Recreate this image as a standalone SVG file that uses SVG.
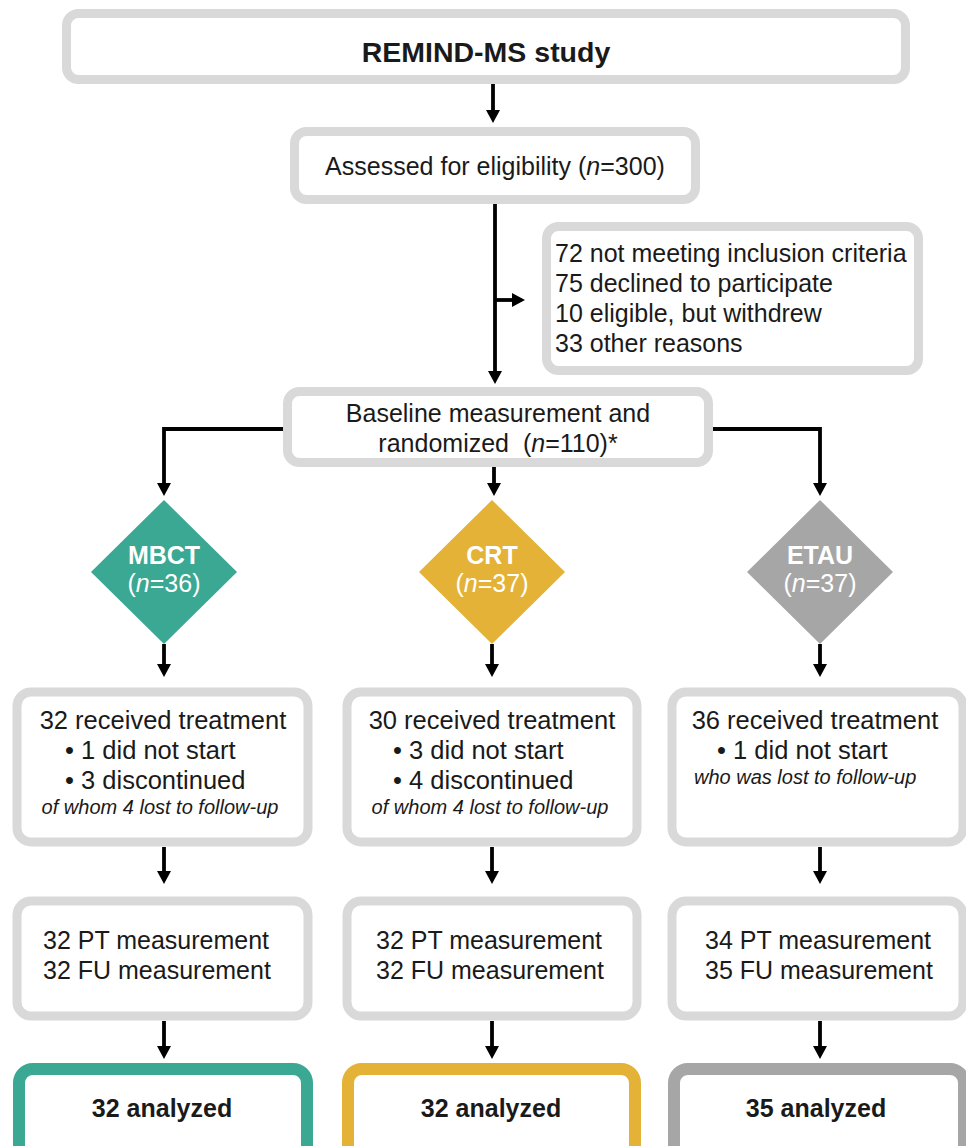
<svg xmlns="http://www.w3.org/2000/svg" width="966" height="1146" viewBox="0 0 966 1146">
<style>
.box{fill:#fff;stroke:#d9d9d9;stroke-width:9}
.t{font-family:"Liberation Sans",Arial,sans-serif;font-size:25px;fill:#1a1a1a}
.r{font-size:25.5px}
.b{font-weight:bold}
.i{font-style:italic;font-size:20px}
.m{text-anchor:middle}
.w{fill:#fff}
.c{fill:none;stroke:#000;stroke-width:3.8}
</style>
<defs>
<marker id="ah" markerUnits="userSpaceOnUse" markerWidth="14" markerHeight="14" refX="2" refY="7" orient="auto">
<path d="M0,0 L13,7 L0,14 z" fill="#000"/>
</marker>
</defs>
<g id="connectors">
<line class="c" x1="493" y1="84" x2="493" y2="112" marker-end="url(#ah)"/>
<line class="c" x1="495" y1="204" x2="495" y2="373" marker-end="url(#ah)"/>
<line class="c" x1="495" y1="300" x2="514" y2="300" marker-end="url(#ah)"/>
<polyline class="c" points="283,429 164,429 164,485" marker-end="url(#ah)"/>
<polyline class="c" points="713,429 820,429 820,485" marker-end="url(#ah)"/>
<line class="c" x1="494" y1="467" x2="494" y2="485" marker-end="url(#ah)"/>
<line class="c" x1="164" y1="644" x2="164" y2="666" marker-end="url(#ah)"/>
<line class="c" x1="492" y1="644" x2="492" y2="666" marker-end="url(#ah)"/>
<line class="c" x1="820" y1="644" x2="820" y2="666" marker-end="url(#ah)"/>
<line class="c" x1="164" y1="847" x2="164" y2="873" marker-end="url(#ah)"/>
<line class="c" x1="492" y1="847" x2="492" y2="873" marker-end="url(#ah)"/>
<line class="c" x1="820" y1="847" x2="820" y2="873" marker-end="url(#ah)"/>
<line class="c" x1="164" y1="1021" x2="164" y2="1048" marker-end="url(#ah)"/>
<line class="c" x1="492" y1="1021" x2="492" y2="1048" marker-end="url(#ah)"/>
<line class="c" x1="820" y1="1021" x2="820" y2="1048" marker-end="url(#ah)"/>
</g>
<g id="study">
<rect class="box" x="66.5" y="13.5" width="839" height="66" rx="12"/>
<text class="t b m" x="486" y="62" style="font-size:28.5px">REMIND-MS study</text>
</g>
<g id="assessed">
<rect class="box" x="294.5" y="131.5" width="401" height="68" rx="12"/>
<text class="t m" x="495" y="175">Assessed for eligibility (<tspan font-style="italic">n</tspan>=300)</text>
</g>
<g id="excluded">
<rect class="box" x="546.5" y="226.5" width="372" height="144" rx="12"/>
<text class="t" x="555" y="262">72 not meeting inclusion criteria</text>
<text class="t" x="555" y="292">75 declined to participate</text>
<text class="t" x="555" y="322">10 eligible, but withdrew</text>
<text class="t" x="555" y="352">33 other reasons</text>
</g>
<g id="baseline">
<rect class="box" x="287.5" y="391.5" width="421" height="71" rx="12"/>
<text class="t m" x="498" y="422">Baseline measurement and</text>
<text class="t m" x="498" y="452">randomized &#160;(<tspan font-style="italic">n</tspan>=110)*</text>
</g>
<g id="mbct">
<polygon points="164,500 237,572 164,644 91,572" fill="#3aa892"/>
<text class="t b m w" x="164" y="564">MBCT</text>
<text class="t m w" x="164" y="592">(<tspan font-style="italic">n</tspan>=36)</text>
</g>
<g id="crt">
<polygon points="492,500 565,572 492,644 419,572" fill="#e3b237"/>
<text class="t b m w" x="492" y="564">CRT</text>
<text class="t m w" x="492" y="592">(<tspan font-style="italic">n</tspan>=37)</text>
</g>
<g id="etau">
<polygon points="820,500 893,572 820,644 747,572" fill="#a6a6a6"/>
<text class="t b m w" x="820" y="564">ETAU</text>
<text class="t m w" x="820" y="592">(<tspan font-style="italic">n</tspan>=37)</text>
</g>
<g id="mbct-treatment">
<rect class="box" x="17" y="692" width="291" height="150" rx="14"/>
<text class="t r m" x="163" y="729">32 received treatment</text>
<text class="t r" x="65" y="759">• 1 did not start</text>
<text class="t r" x="65" y="789">• 3 discontinued</text>
<text class="t i m" x="160" y="814">of whom 4 lost to follow-up</text>
</g>
<g id="crt-treatment">
<rect class="box" x="347" y="692" width="290" height="150" rx="14"/>
<text class="t r m" x="492" y="729">30 received treatment</text>
<text class="t r" x="393" y="759">• 3 did not start</text>
<text class="t r" x="393" y="789">• 4 discontinued</text>
<text class="t i m" x="490" y="814">of whom 4 lost to follow-up</text>
</g>
<g id="etau-treatment">
<rect class="box" x="672" y="692" width="291" height="150" rx="14"/>
<text class="t r m" x="815" y="729">36 received treatment</text>
<text class="t r" x="717" y="759">• 1 did not start</text>
<text class="t i" x="694" y="784">who was lost to follow-up</text>
</g>
<g id="mbct-measure">
<rect class="box" x="17" y="901" width="291" height="115" rx="14"/>
<text class="t" x="43" y="949">32 PT measurement</text>
<text class="t" x="43" y="979">32 FU measurement</text>
</g>
<g id="crt-measure">
<rect class="box" x="347" y="901" width="290" height="115" rx="14"/>
<text class="t" x="376" y="949">32 PT measurement</text>
<text class="t" x="376" y="979">32 FU measurement</text>
</g>
<g id="etau-measure">
<rect class="box" x="672" y="901" width="291" height="115" rx="14"/>
<text class="t" x="705" y="949">34 PT measurement</text>
<text class="t" x="705" y="979">35 FU measurement</text>
</g>
<g id="mbct-analyzed">
<rect x="19" y="1069" width="288" height="90" rx="14" fill="#fff" stroke="#3aa892" stroke-width="12"/>
<text class="t b m" x="162" y="1117">32 analyzed</text>
</g>
<g id="crt-analyzed">
<rect x="348" y="1069" width="287" height="90" rx="14" fill="#fff" stroke="#e3b237" stroke-width="12"/>
<text class="t b m" x="491" y="1117">32 analyzed</text>
</g>
<g id="etau-analyzed">
<rect x="674" y="1069" width="290" height="90" rx="14" fill="#fff" stroke="#a6a6a6" stroke-width="12"/>
<text class="t b m" x="816" y="1117">35 analyzed</text>
</g>
</svg>
